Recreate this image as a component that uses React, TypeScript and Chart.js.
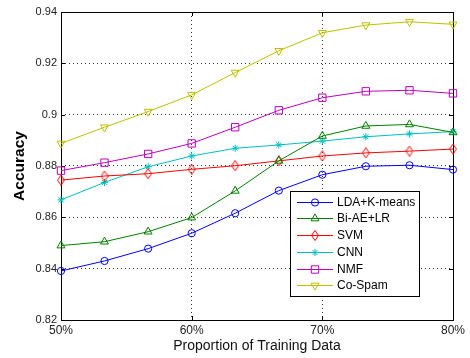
import React, { useEffect, useRef } from 'react';
import { Chart, registerables } from 'chart.js';
import { drawPoint } from 'chart.js/helpers';

Chart.register(...registerables);

const proportions = [50, 53.33, 56.67, 60, 63.33, 66.67, 70, 73.33, 76.67, 80];
const seriesNames = ['LDA+K-means', 'Bi-AE+LR', 'SVM', 'CNN', 'NMF', 'Co-Spam'];
const ldaKmeans = [0.8391, 0.843, 0.8478, 0.8538, 0.8616, 0.8704, 0.8766, 0.8799, 0.8803, 0.8786];
const biAeLr = [0.849, 0.8505, 0.8544, 0.8599, 0.8703, 0.882, 0.8917, 0.8956, 0.8962, 0.8931];
const svm = [0.8745, 0.8761, 0.877, 0.8787, 0.8801, 0.882, 0.8839, 0.8851, 0.8858, 0.8866];
const cnn = [0.8668, 0.8736, 0.8797, 0.8839, 0.8869, 0.8882, 0.8897, 0.8914, 0.8925, 0.8934];
const nmf = [0.8782, 0.8813, 0.8847, 0.8888, 0.8951, 0.9017, 0.9066, 0.9091, 0.9095, 0.9083];
const coSpam = [0.8888, 0.8951, 0.9012, 0.9077, 0.9164, 0.9249, 0.9319, 0.9349, 0.9362, 0.9352];
const xTicks = [50, 60, 70, 80];
const yTicks = [0.82, 0.84, 0.86, 0.88, 0.9, 0.92, 0.94];

const FONT = "Arial, 'Liberation Sans', Helvetica, sans-serif";

function makeDiamond(color: string) {
  const c = document.createElement('canvas');
  c.width = 8;
  c.height = 11;
  const g = c.getContext('2d')!;
  g.strokeStyle = color;
  g.lineWidth = 1;
  g.beginPath();
  g.moveTo(4, 0.5);
  g.lineTo(7.5, 5.5);
  g.lineTo(4, 10.5);
  g.lineTo(0.5, 5.5);
  g.closePath();
  g.stroke();
  return c;
}

const framePlugin = {
  id: 'frame',
  beforeDatasetsDraw(chart: any) {
    const { ctx, chartArea: a, scales } = chart;
    ctx.save();
    ctx.strokeStyle = '#000';
    ctx.lineWidth = 1;
    const l = Math.round(a.left), t = Math.round(a.top), r = Math.round(a.right), b = Math.round(a.bottom);
    ctx.strokeRect(l + 0.5, t + 0.5, r - l, b - t);
    const tl = 4;
    ctx.beginPath();
    scales.x.ticks.forEach((tk: any) => {
      const px = Math.round(scales.x.getPixelForValue(tk.value)) + 0.5;
      ctx.moveTo(px, b);
      ctx.lineTo(px, b - tl);
      ctx.moveTo(px, t);
      ctx.lineTo(px, t + tl);
    });
    scales.y.ticks.forEach((tk: any) => {
      const py = Math.round(scales.y.getPixelForValue(tk.value)) + 0.5;
      ctx.moveTo(l, py);
      ctx.lineTo(l + tl, py);
      ctx.moveTo(r, py);
      ctx.lineTo(r - tl, py);
    });
    ctx.stroke();
    ctx.restore();
  },
};

const legendPlugin = {
  id: 'legendBox',
  afterDatasetsDraw(chart: any) {
    const { ctx, chartArea: a } = chart;
    const w = 129, h = 105;
    const x0 = Math.round(a.right - 34 - w);
    const y0 = Math.round(a.bottom - 24 - h);
    ctx.save();
    ctx.fillStyle = '#fff';
    ctx.fillRect(x0, y0, w, h);
    ctx.strokeStyle = '#000';
    ctx.lineWidth = 1;
    ctx.strokeRect(x0 + 0.5, y0 + 0.5, w, h);
    chart.data.datasets.forEach((ds: any, i: number) => {
      const cy = Math.round(y0 + 10.7 + i * 16.7) + 0.5;
      ctx.strokeStyle = ds.borderColor;
      ctx.lineWidth = 1;
      ctx.beginPath();
      ctx.moveTo(x0 + 7, cy);
      ctx.lineTo(x0 + 43, cy);
      ctx.stroke();
      ctx.fillStyle = 'rgba(0,0,0,0)';
      drawPoint(ctx, { pointStyle: ds.pointStyle, radius: ds.pointRadius, rotation: ds.pointRotation || 0, borderWidth: 1 } as any, x0 + 25, cy);
      ctx.fillStyle = '#000';
      ctx.font = `12px ${FONT}`;
      ctx.textBaseline = 'middle';
      ctx.textAlign = 'left';
      ctx.fillText(ds.label, x0 + 47, cy);
    });
    ctx.restore();
  },
};

export default function App() {
  const ref = useRef<HTMLCanvasElement>(null);
  useEffect(() => {
    if (!ref.current) return;
    const mk = (arr: number[]) => proportions.map((x, i) => ({ x, y: arr[i] }));
    const styles = [
      { color: '#0000ff', pointStyle: 'circle', pointRadius: 3.6, rot: 0 },
      { color: '#008000', pointStyle: 'triangle', pointRadius: 4.6, rot: 0 },
      { color: '#ff0000', pointStyle: makeDiamond('#ff0000'), pointRadius: 4, rot: 0 },
      { color: '#00bfbf', pointStyle: 'star', pointRadius: 3.6, rot: 0 },
      { color: '#bf00bf', pointStyle: 'rect', pointRadius: 5.2, rot: 0 },
      { color: '#bfbf00', pointStyle: 'triangle', pointRadius: 4.6, rot: 180 },
    ];
    const series = [ldaKmeans, biAeLr, svm, cnn, nmf, coSpam];
    const datasets = series.map((arr, i) => ({
      label: seriesNames[i],
      data: mk(arr),
      borderColor: styles[i].color,
      backgroundColor: 'rgba(0,0,0,0)',
      borderWidth: 1,
      pointStyle: styles[i].pointStyle as any,
      pointRadius: styles[i].pointRadius,
      pointRotation: styles[i].rot,
      pointBorderColor: styles[i].color,
      pointBackgroundColor: 'rgba(0,0,0,0)',
      pointBorderWidth: 1,
      tension: 0,
      fill: false,
      clip: false as any,
    }));
    const gridColor = (c: any) => {
      const v = c.tick ? c.tick.value : null;
      return c.scale && (v === c.scale.min || v === c.scale.max) ? 'rgba(0,0,0,0)' : '#333';
    };
    const chart = new Chart(ref.current, {
      type: 'line',
      data: { datasets },
      options: {
        responsive: false,
        animation: false,
        devicePixelRatio: 1,
        layout: { padding: { top: 12, right: 17, left: 0, bottom: 0 } },
        plugins: { legend: { display: false }, tooltip: { enabled: false } },
        scales: {
          x: {
            type: 'linear',
            min: 50,
            max: 80,
            afterBuildTicks: (s: any) => { s.ticks = xTicks.map((v) => ({ value: v })); },
            afterFit: (s: any) => { s.height = 38; },
            grid: { color: gridColor, lineWidth: 1, drawTicks: false },
            border: { display: false, dash: [1, 3] },
            ticks: {
              padding: 3,
              color: '#222',
              font: { family: FONT, size: 12 },
              maxRotation: 0,
              callback: (v: any) => `${v}%`,
            },
            title: {
              display: true,
              text: 'Proportion of Training Data',
              color: '#111',
              font: { family: FONT, size: 14, lineHeight: 1.2 },
              padding: { top: 0, bottom: 3 },
            },
          },
          y: {
            type: 'linear',
            min: 0.82,
            max: 0.94,
            afterBuildTicks: (s: any) => { s.ticks = yTicks.map((v) => ({ value: v })); },
            afterFit: (s: any) => { s.width = 61; },
            grid: { color: gridColor, lineWidth: 1, drawTicks: false },
            border: { display: false, dash: [1, 3] },
            ticks: {
              padding: 4,
              color: '#222',
              font: { family: FONT, size: 11 },
              callback: (v: any) => String(parseFloat(Number(v).toFixed(2))),
            },
            title: {
              display: true,
              text: 'Accuracy',
              color: '#000',
              font: { family: FONT, size: 15.5, weight: 'bold', lineHeight: 1.2 },
              padding: { top: 10.7, bottom: 0 },
            },
          },
        },
      },
      plugins: [framePlugin, legendPlugin],
    });
    return () => chart.destroy();
  }, []);
  return (
    <div style={{ position: 'absolute', left: 0, top: 0, width: 470, height: 358, background: '#fff' }}>
      <canvas ref={ref} width={470} height={358} style={{ display: 'block', width: 470, height: 358 }} />
    </div>
  );
}
